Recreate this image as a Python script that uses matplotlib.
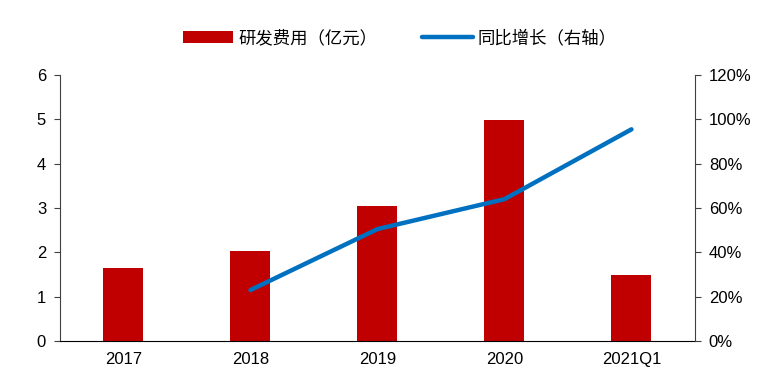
import numpy as np
import matplotlib.pyplot as plt
from matplotlib.ticker import FuncFormatter

plt.rcParams['font.family'] = ['Liberation Sans', 'Noto Sans CJK SC', 'DejaVu Sans']

# 数据
categories = ["2017", "2018", "2019", "2020", "2021Q1"]
rd_cost = [1.65, 2.03, 3.04, 4.99, 1.50]          # 研发费用（亿元）
yoy_labels = ["2018", "2019", "2020", "2021Q1"]
yoy_growth = [23.0, 50.5, 64.0, 95.5]              # 同比增长 %

x = np.arange(len(categories))
x_yoy = [categories.index(c) for c in yoy_labels]

fig = plt.figure(figsize=(7.76, 3.80), dpi=100)
ax = fig.add_axes([0.0773, 0.1026, 0.8183, 0.70])

bars = ax.bar(x, rd_cost, width=0.315, color="#C00000", label="研发费用（亿元）", zorder=2)
ax.set_xlim(-0.5, len(categories) - 0.5)
ax.set_ylim(0, 6)
ax.set_yticks(range(0, 7))
ax.set_xticks(x)
ax.set_xticklabels(categories)

ax2 = ax.twinx()
line, = ax2.plot(x_yoy, yoy_growth, color="#0070C0", lw=3.2, solid_capstyle="round",
                 label="同比增长（右轴）", zorder=3)
ax2.set_ylim(0, 120)
ax2.set_yticks(range(0, 121, 20))
ax2.yaxis.set_major_formatter(FuncFormatter(lambda v, p: f"{int(v)}%"))

for a in (ax, ax2):
    a.spines["top"].set_visible(False)
    a.tick_params(labelsize=12, colors="black")
ax.spines["right"].set_visible(False)
ax.spines["left"].set_color("#404040")
ax2.spines["right"].set_color("#404040")
ax2.spines["left"].set_visible(False)
ax2.spines["bottom"].set_visible(False)
ax.spines["bottom"].set_color("black")
ax.tick_params(axis="x", length=0, pad=8)
ax.tick_params(axis="y", direction="out", length=4, color="#404040", pad=6)
ax2.tick_params(axis="y", direction="out", length=4, color="#404040", pad=6)

fig.legend([bars, line], ["研发费用（亿元）", "同比增长（右轴）"],
           loc="center", bbox_to_anchor=(0.515, 0.90), ncol=2, frameon=False,
           prop={"family": ["Noto Sans CJK SC"], "size": 12.5},
           handlelength=2.9, columnspacing=2.6, handletextpad=0.3)

fig.savefig("out.png", dpi=100)
